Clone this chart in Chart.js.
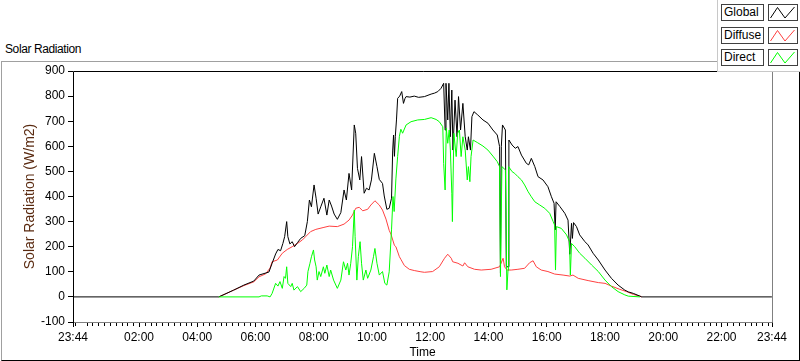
<!DOCTYPE html>
<html>
<head>
<meta charset="utf-8">
<title>Solar Radiation</title>
<script src="https://cdn.jsdelivr.net/npm/chart.js@4.4.1/dist/chart.umd.min.js"></script>
<style>
  body { margin: 0; background: #fff; font-family: "Liberation Sans", Arial, sans-serif; }
  #wrap { position: relative; width: 800px; height: 361px; overflow: hidden; background: #fff; }
  #frame { position: absolute; left: 1px; top: 61px; width: 799px; height: 300px; box-sizing: border-box;
           border-top: 1px solid #a0a0a0; border-left: 1px solid #a0a0a0; border-right: 1px solid #000; border-bottom: 1px solid #000; }
  #title { position: absolute; left: 5px; top: 42px; font-size: 12px; letter-spacing: -0.4px; line-height: 14px; color: #000; }
  #chart { position: absolute; left: 0; top: 0; }
  #legend { position: absolute; left: 717px; top: 0; width: 83px; height: 72px; box-sizing: border-box; background: #fff;
            border-left: 1px solid #c8c8c8; border-bottom: 1px solid #c8c8c8; }
  .lbl { position: absolute; left: 3px; width: 43px; height: 17px; box-sizing: border-box; border: 1px solid #404040;
         font-size: 12px; line-height: 15px; padding-left: 2px; color: #000; }
  .sw { position: absolute; left: 50px; width: 30px; height: 17px; box-sizing: border-box; border: 1px solid #404040; }
  .sw svg { position: absolute; left: 0; top: 0; }
</style>
</head>
<body>
<div id="wrap">
  <div id="frame"></div>
  <div id="title">Solar Radiation</div>
  <canvas id="chart" width="800" height="361"></canvas>
  <div id="legend"></div>
</div>
<script>
// time in hours since midnight, x axis runs 23:44 -> 23:44
const xMin = -16 / 60;
const xMax = 23 + 44 / 60;
const xTickValues = [xMin, 2, 4, 6, 8, 10, 12, 14, 16, 18, 20, 22, xMax];

const seriesNames = ['Global', 'Diffuse', 'Direct'];
const seriesColors = ['#000000', '#ff4040', '#00ff00'];

const globalTimes = [-0.27, 4.74, 5.25, 5.60, 5.94, 6.12, 6.46, 6.57, 6.69, 6.77, 6.86, 6.94, 7.00, 7.07, 7.11, 7.18, 7.26, 7.34, 7.44, 7.55,
  7.69, 7.78, 7.85, 7.92, 8.01, 8.08, 8.15, 8.24, 8.35, 8.45, 8.53, 8.61, 8.70, 8.81, 8.93, 9.04, 9.12, 9.21, 9.30, 9.39,
  9.44, 9.50, 9.58, 9.64, 9.73, 9.81, 9.90, 9.98, 10.08, 10.17, 10.25, 10.36, 10.42, 10.51, 10.59, 10.67, 10.71, 10.74, 10.77, 10.80,
  10.84, 10.88, 10.95, 11.02, 11.08, 11.13, 11.17, 11.30, 11.45, 11.60, 11.80, 12.03, 12.15, 12.26, 12.37, 12.46, 12.51, 12.54, 12.60, 12.64,
  12.69, 12.74, 12.78, 12.85, 12.92, 12.97, 13.04, 13.12, 13.20, 13.27, 13.31, 13.38, 13.43, 13.50, 13.63, 13.81, 13.98, 14.15, 14.30, 14.38,
  14.41, 14.44, 14.48, 14.58, 14.61, 14.67, 14.70, 14.81, 14.92, 15.01, 15.13, 15.30, 15.38, 15.47, 15.59, 15.70, 15.87, 16.04, 16.16, 16.25,
  16.29, 16.32, 16.45, 16.62, 16.73, 16.79, 16.85, 16.88, 16.92, 17.02, 17.13, 17.31, 17.42, 17.59, 17.77, 18.00, 18.22, 18.45, 18.68, 18.80,
  18.97, 19.20, 19.26, 23.73];
const globalValues = [0, 0, 27, 47, 63, 87, 99, 134, 171, 189, 184, 213, 240, 300, 240, 211, 220, 200, 216, 233,
  244, 300, 386, 359, 446, 393, 330, 359, 393, 326, 386, 362, 330, 309, 336, 426, 386, 492, 426, 685,
  652, 512, 466, 559, 413, 433, 426, 466, 572, 519, 468, 452, 402, 349, 353, 393, 585, 645, 560, 640,
  705, 791, 800, 818, 771, 790, 798, 796, 800, 795, 798, 808, 812, 818, 831, 851, 665, 851, 705, 851,
  638, 824, 585, 784, 638, 798, 665, 771, 638, 585, 638, 585, 718, 738, 725, 705, 692, 665, 645, 599,
  94, 600, 685, 665, 120, 120, 625, 605, 592, 599, 565, 532, 526, 552, 519, 479, 466, 439, 399, 373,
  267, 379, 360, 333, 306, 170, 293, 233, 296, 280, 247, 220, 207, 174, 147, 107, 74, 47, 27, 20,
  14, 3, 0, 0];

const diffuseTimes = [4.74, 5.25, 5.60, 5.94, 6.12, 6.35, 6.50, 6.57, 6.75, 6.92, 7.09, 7.26, 7.44, 7.61, 7.72, 7.89, 8.07, 8.35, 8.53, 8.81,
  9.04, 9.21, 9.33, 9.44, 9.56, 9.68, 9.85, 9.96, 10.10, 10.25, 10.36, 10.48, 10.59, 10.65, 10.77, 10.82, 10.94, 10.99, 11.11, 11.28,
  11.45, 11.68, 11.80, 12.08, 12.31, 12.49, 12.60, 12.72, 12.77, 12.95, 13.12, 13.18, 13.29, 13.52, 13.75, 14.09, 14.38, 14.50, 14.55, 14.64,
  14.78, 15.01, 15.24, 15.41, 15.53, 15.64, 15.81, 16.04, 16.27, 16.56, 16.79, 16.90, 17.08, 17.42, 17.77, 18.00, 18.22, 18.51, 18.74, 18.97,
  19.20, 19.26];
const diffuseValues = [0, 27, 45, 60, 80, 92, 115, 140, 147, 174, 189, 200, 213, 227, 240, 260, 269, 277, 282, 280,
  290, 306, 326, 353, 357, 343, 349, 366, 383, 366, 346, 310, 265, 250, 205, 200, 160, 150, 125, 110,
  105, 100, 98, 101, 120, 154, 170, 154, 140, 134, 123, 136, 120, 110, 107, 110, 120, 154, 120, 107,
  107, 110, 114, 136, 144, 120, 107, 101, 91, 87, 83, 87, 74, 65, 57, 54, 43, 30, 21, 10,
  3, 0];

const directTimes = [4.74, 6.12, 6.20, 6.40, 6.50, 6.57, 6.69, 6.77, 6.84, 6.92, 6.98, 7.03, 7.07, 7.11, 7.21, 7.26, 7.32, 7.44, 7.55, 7.67,
  7.76, 7.80, 7.87, 7.92, 7.99, 8.03, 8.08, 8.12, 8.18, 8.24, 8.33, 8.38, 8.45, 8.53, 8.58, 8.68, 8.81, 8.93, 9.02, 9.10,
  9.16, 9.21, 9.27, 9.33, 9.39, 9.42, 9.48, 9.53, 9.59, 9.64, 9.70, 9.79, 9.85, 9.96, 10.05, 10.10, 10.17, 10.25, 10.36, 10.44,
  10.51, 10.59, 10.67, 10.72, 10.76, 10.82, 10.88, 10.94, 10.99, 11.05, 11.17, 11.34, 11.57, 11.80, 12.03, 12.20, 12.31, 12.43, 12.46, 12.51,
  12.55, 12.60, 12.65, 12.69, 12.74, 12.76, 12.81, 12.89, 12.94, 13.00, 13.06, 13.12, 13.20, 13.27, 13.31, 13.36, 13.40, 13.47, 13.63, 13.81,
  13.98, 14.15, 14.30, 14.38, 14.41, 14.46, 14.58, 14.63, 14.67, 14.69, 14.81, 14.90, 15.01, 15.13, 15.24, 15.36, 15.47, 15.59, 15.76, 15.93,
  16.10, 16.22, 16.27, 16.30, 16.33, 16.50, 16.68, 16.78, 16.81, 16.85, 16.96, 17.13, 17.31, 17.54, 17.77, 18.00, 18.22, 18.45, 18.68, 18.80,
  19.20];
const directValues = [0, 0, 4, 4, 0, 14, 54, 43, 61, 34, 81, 74, 120, 54, 41, 54, 27, 41, 21, 34,
  47, 101, 134, 160, 187, 147, 120, 67, 101, 81, 120, 94, 127, 81, 107, 67, 34, 67, 140, 107,
  134, 87, 134, 200, 346, 240, 67, 160, 220, 134, 67, 107, 74, 107, 160, 193, 134, 87, 101, 54,
  47, 100, 267, 400, 340, 470, 560, 640, 668, 652, 685, 698, 705, 707, 714, 707, 698, 678, 532, 426,
  672, 612, 665, 585, 413, 300, 652, 559, 652, 665, 559, 638, 585, 466, 519, 459, 559, 625, 614, 601,
  585, 561, 539, 519, 81, 519, 506, 28, 107, 519, 499, 492, 479, 466, 446, 419, 399, 379, 366, 353,
  333, 300, 286, 107, 280, 273, 247, 220, 87, 213, 200, 174, 154, 127, 101, 67, 41, 21, 8, 3,
  0];

const fontFamily = '"Liberation Sans", Arial, sans-serif';
Chart.defaults.font.family = fontFamily;
Chart.defaults.font.size = 12;
Chart.defaults.color = '#000';

function toPoints(times, values) {
  return times.map((t, i) => ({ x: t, y: values[i] }));
}

function fmtTime(v) {
  let m = Math.round(v * 60);
  m = ((m % 1440) + 1440) % 1440;
  const hh = String(Math.floor(m / 60)).padStart(2, '0');
  const mm = String(m % 60).padStart(2, '0');
  return hh + ':' + mm;
}

// legend in the LabVIEW style: name box + zigzag swatch
const legend = document.getElementById('legend');
seriesNames.forEach((name, i) => {
  const top = 4 + i * 22.5;
  const lbl = document.createElement('div');
  lbl.className = 'lbl';
  lbl.style.top = top + 'px';
  lbl.innerText = name;
  const sw = document.createElement('div');
  sw.className = 'sw';
  sw.style.top = top + 'px';
  sw.innerHTML = '<svg width="28" height="15"><polyline points="1.5,13 8.5,2.5 16,13 25.5,2" fill="none" stroke="' +
    seriesColors[i] + '" stroke-width="1"/></svg>';
  legend.appendChild(lbl);
  legend.appendChild(sw);
});

const framePlugin = {
  id: 'frame',
  afterDatasetsDraw(chart) {
    const { ctx, chartArea: { left, top, right, bottom } } = chart;
    const xs = chart.scales.x;
    ctx.save();
    ctx.lineWidth = 1;
    ctx.strokeStyle = '#808080';
    ctx.beginPath();
    ctx.moveTo(right + 0.5, top);
    ctx.lineTo(right + 0.5, bottom + 0.5);
    ctx.lineTo(left, bottom + 0.5);
    ctx.stroke();
    ctx.strokeStyle = '#000';
    ctx.beginPath();
    ctx.moveTo(left + 0.5, bottom + 1);
    ctx.lineTo(left + 0.5, top + 0.5);
    ctx.lineTo(right + 1, top + 0.5);
    ctx.stroke();
    // minor ticks every 12 minutes
    ctx.beginPath();
    for (let m = -12; m < xMax * 60; m += 12) {
      if (m % 120 === 0) continue;
      const px = Math.round(xs.getPixelForValue(m / 60)) + 0.5;
      ctx.moveTo(px, bottom + 1);
      ctx.lineTo(px, bottom + 4);
    }
    ctx.stroke();
    ctx.restore();
  }
};

new Chart(document.getElementById('chart'), {
  type: 'line',
  data: {
    datasets: [
      { label: seriesNames[2], data: toPoints(directTimes, directValues), borderColor: seriesColors[2], order: 0 },
      { label: seriesNames[0], data: toPoints(globalTimes, globalValues), borderColor: seriesColors[0], order: 1 },
      { label: seriesNames[1], data: toPoints(diffuseTimes, diffuseValues), borderColor: seriesColors[1], order: 2 }
    ]
  },
  options: {
    responsive: false,
    animation: false,
    events: [],
    layout: { padding: { top: 71, right: 28, left: 0, bottom: 0 } },
    elements: {
      point: { radius: 0 },
      line: { borderWidth: 1, tension: 0, fill: false }
    },
    plugins: {
      legend: { display: false },
      tooltip: { enabled: false }
    },
    scales: {
      x: {
        type: 'linear',
        min: xMin,
        max: xMax,
        afterBuildTicks: (s) => { s.ticks = xTickValues.map(v => ({ value: v })); },
        afterFit: (s) => { s.height = 39; },
        ticks: { autoSkip: false, maxRotation: 0, padding: 3, color: '#000', callback: (v) => fmtTime(v) },
        grid: { drawOnChartArea: false, tickLength: 5, tickColor: '#000' },
        border: { display: false },
        title: { display: true, text: 'Time', color: '#000', padding: { top: 0, bottom: 1 } }
      },
      y: {
        min: -100,
        max: 900,
        afterFit: (s) => { s.width = 73; },
        ticks: { stepSize: 100, padding: 3, color: '#000' },
        grid: { drawOnChartArea: false, tickLength: 5, tickColor: '#000' },
        border: { display: false },
        title: { display: true, text: 'Solar Radiation (W/m2)', color: '#5a2a10', font: { size: 14 }, padding: { top: 22, bottom: 0 } }
      }
    }
  },
  plugins: [framePlugin]
});
</script>
</body>
</html>
